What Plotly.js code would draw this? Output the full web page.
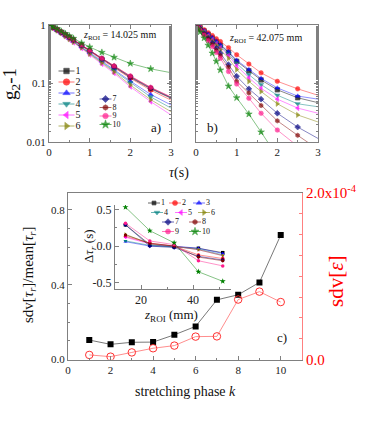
<!DOCTYPE html>
<html>
<head>
<meta charset="utf-8">
<script src="https://cdn.plot.ly/plotly-3.0.1.min.js"></script>
<style>
  html, body { margin: 0; padding: 0; background: #fff; }
  #plot { width: 374px; height: 424px; }
</style>
</head>
<body>
<div id="plot"></div>
<script>
// ---- data ----
const seriesNames = ['1', '2', '3', '4', '5', '6', '7', '8', '9', '10'];

// panels a) and b): g2-1 vs tau, fit line continues to tau = 3
const tau = [0.05, 0.1, 0.2, 0.3, 0.4, 0.5, 0.6, 0.8, 1.0, 1.3, 1.6, 2.0, 2.5];
const tauEnd = 3;

const g2a1  = [0.95, 0.91, 0.83, 0.75, 0.68, 0.61, 0.55, 0.45, 0.36, 0.26, 0.19, 0.127, 0.081];
const g2a2  = [0.95, 0.91, 0.83, 0.75, 0.68, 0.61, 0.55, 0.44, 0.355, 0.255, 0.187, 0.123, 0.077];
const g2a3  = [0.94, 0.90, 0.82, 0.74, 0.66, 0.59, 0.53, 0.43, 0.34, 0.24, 0.175, 0.11, 0.065];
const g2a4  = [0.93, 0.89, 0.81, 0.73, 0.65, 0.58, 0.52, 0.42, 0.33, 0.235, 0.168, 0.103, 0.059];
const g2a5  = [0.92, 0.87, 0.79, 0.71, 0.63, 0.56, 0.50, 0.40, 0.31, 0.215, 0.15, 0.088, 0.049];
const g2a6  = [0.93, 0.88, 0.80, 0.72, 0.64, 0.57, 0.51, 0.41, 0.32, 0.225, 0.158, 0.094, 0.053];
const g2a7  = [0.96, 0.92, 0.84, 0.76, 0.69, 0.62, 0.56, 0.45, 0.365, 0.265, 0.195, 0.13, 0.083];
const g2a8  = [0.96, 0.92, 0.84, 0.77, 0.69, 0.62, 0.56, 0.46, 0.37, 0.27, 0.20, 0.133, 0.085];
const g2a9  = [0.97, 0.93, 0.85, 0.77, 0.70, 0.63, 0.57, 0.46, 0.37, 0.27, 0.20, 0.135, 0.086];
const g2a10 = [0.97, 0.93, 0.86, 0.78, 0.71, 0.65, 0.59, 0.49, 0.42, 0.34, 0.28, 0.22, 0.178];
const fitEndA = [0.056, 0.052, 0.043, 0.038, 0.029, 0.033, 0.057, 0.058, 0.059, 0.153];

const g2b1  = [0.95, 0.90, 0.79, 0.69, 0.60, 0.52, 0.45, 0.34, 0.24, 0.165, 0.115, 0.078, 0.057];
const g2b2  = [0.97, 0.93, 0.83, 0.74, 0.66, 0.58, 0.52, 0.41, 0.31, 0.215, 0.152, 0.109, 0.081];
const g2b3  = [0.95, 0.90, 0.80, 0.70, 0.61, 0.53, 0.46, 0.35, 0.25, 0.173, 0.122, 0.084, 0.061];
const g2b4  = [0.94, 0.89, 0.78, 0.67, 0.58, 0.50, 0.43, 0.32, 0.22, 0.142, 0.096, 0.063, 0.045];
const g2b5  = [0.94, 0.88, 0.76, 0.65, 0.56, 0.48, 0.41, 0.30, 0.20, 0.125, 0.083, 0.054, 0.038];
const g2b6  = [0.93, 0.87, 0.75, 0.63, 0.53, 0.45, 0.38, 0.27, 0.173, 0.109, 0.073, 0.045, 0.029];
const g2b7  = [0.92, 0.85, 0.71, 0.59, 0.49, 0.40, 0.33, 0.21, 0.133, 0.081, 0.054, 0.031, 0.018];
const g2b8  = [0.91, 0.84, 0.69, 0.57, 0.46, 0.37, 0.30, 0.19, 0.109, 0.069, 0.042, 0.023, 0.013];
const g2b9  = [0.90, 0.82, 0.67, 0.54, 0.43, 0.34, 0.27, 0.16, 0.098, 0.056, 0.031, 0.016, 0.0085];
const g2b10 = [0.86, 0.76, 0.60, 0.45, 0.33, 0.24, 0.17, 0.09, 0.057, 0.030, 0.0148, 0.0058, 0.0017];
const fitEndB = [0.047, 0.063, 0.054, 0.040, 0.031, 0.022, 0.0115, 0.0075, 0.0045, 0.0005];

// panel c): spread vs stretching phase
const phaseK = [1, 2, 3, 4, 5, 6, 7, 8, 9, 10];
const sdvTau = [0.104, 0.081, 0.092, 0.093, 0.132, 0.177, 0.319, 0.346, 0.412, 0.665];
const sdvRate = [0.055e-4, 0.034e-4, 0.085e-4, 0.135e-4, 0.167e-4, 0.275e-4, 0.278e-4, 0.72e-4, 0.815e-4, 0.69e-4];

// inset: delta tau_r vs z_ROI
const zRoi = [14.025, 23.375, 32.725, 42.075, 51.425];
const dTau1  = [0.29, 0.02, -0.01, -0.03, -0.09];
const dTau2  = [0.13, 0.04, 0.00, -0.12, -0.17];
const dTau3  = [0.06, 0.00, 0.00, -0.03, -0.10];
const dTau4  = [0.07, 0.01, -0.01, -0.04, -0.12];
const dTau5  = [0.12, 0.03, 0.00, -0.05, -0.13];
const dTau6  = [0.16, 0.03, 0.00, -0.05, -0.13];
const dTau7  = [0.29, 0.00, -0.02, -0.14, -0.19];
const dTau8  = [0.15, 0.04, 0.00, -0.15, -0.20];
const dTau9  = [0.31, 0.07, 0.02, -0.20, -0.27];
const dTau10 = [0.53, 0.21, 0.045, -0.35, -0.48];

// ---- styling ----
const g2a = [g2a1, g2a2, g2a3, g2a4, g2a5, g2a6, g2a7, g2a8, g2a9, g2a10];
const g2b = [g2b1, g2b2, g2b3, g2b4, g2b5, g2b6, g2b7, g2b8, g2b9, g2b10];
const dTau = [dTau1, dTau2, dTau3, dTau4, dTau5, dTau6, dTau7, dTau8, dTau9, dTau10];

const colors = ['#000000', '#ff0000', '#0000ff', '#008080', '#ff00ff', '#808000', '#000080', '#800000', '#ff1a8c', '#008000'];
const lineColors = ['rgba(0,0,0,0.6)', 'rgba(255,0,0,0.55)', 'rgba(0,0,255,0.55)', 'rgba(0,128,128,0.6)', 'rgba(255,0,255,0.55)',
  'rgba(128,128,0,0.6)', 'rgba(0,0,128,0.6)', 'rgba(128,0,0,0.6)', 'rgba(255,26,140,0.6)', 'rgba(0,128,0,0.6)'];
const symbols = ['square', 'circle', 'triangle-up', 'triangle-down', 'triangle-left', 'triangle-right', 'diamond', 'hexagon', 'circle', 'star'];

const W = 374, H = 424;
const px = v => v / W;
const py = v => 1 - v / H;
const serif = "'Liberation Serif', 'Times New Roman', Times, serif";
const grey = '#808080';

const traces = [];

function panelTraces(values, ends, xa, ya) {
  values.forEach(function(vals, i) {
    const big = i === 9 ? 5 : 4.5;
    traces.push({
      x: tau.concat([tauEnd]),
      y: vals.concat([ends[i]]),
      xaxis: xa, yaxis: ya,
      mode: 'lines+markers',
      line: {color: lineColors[i], width: 0.8},
      marker: {color: colors[i], symbol: symbols[i], size: tau.map(() => big).concat([0])},
      showlegend: false, hoverinfo: 'skip'
    });
  });
}
panelTraces(g2a, fitEndA, 'x', 'y');
panelTraces(g2b, fitEndB, 'x2', 'y2');

// panel c
traces.push({
  x: phaseK, y: sdvTau, xaxis: 'x3', yaxis: 'y3',
  mode: 'lines+markers',
  line: {color: '#555', width: 0.8},
  marker: {symbol: 'square', size: 6, color: '#000'},
  showlegend: false
});
traces.push({
  x: phaseK, y: sdvRate, xaxis: 'x3', yaxis: 'y4',
  mode: 'lines+markers',
  line: {color: '#ff7070', width: 0.8},
  marker: {symbol: 'circle-open', size: 7.5, color: '#ff3030', line: {width: 1}},
  showlegend: false
});

// inset
dTau.forEach(function(vals, i) {
  traces.push({
    x: zRoi, y: vals, xaxis: 'x5', yaxis: 'y5',
    mode: 'lines+markers',
    line: {color: lineColors[i], width: 0.8},
    marker: {color: colors[i], symbol: symbols[i], size: i === 9 ? 4.5 : 3.5},
    showlegend: false
  });
});

// hand-built legends on a pixel helper axis (plotly's own legend rows are too tall here)
function legendEntry(i, xm, y, half, size, fontSize) {
  let s = size;
  if (symbols[i] === 'square') s = size - 1;
  if (symbols[i] === 'star') s = size + 1;
  traces.push({
    x: [xm - half, xm, xm + half], y: [y, y, y],
    xaxis: 'x6', yaxis: 'y6',
    mode: 'lines+markers',
    line: {color: lineColors[i], width: 1},
    marker: {color: colors[i], symbol: symbols[i], size: [0, s, 0]},
    cliponaxis: false, showlegend: false, hoverinfo: 'skip'
  });
  traces.push({
    x: [xm + half + 1], y: [y],
    xaxis: 'x6', yaxis: 'y6',
    mode: 'text',
    text: [seriesNames[i]],
    textposition: 'middle right',
    textfont: {family: serif, size: fontSize, color: '#111'},
    cliponaxis: false, showlegend: false, hoverinfo: 'skip'
  });
}
for (let i = 0; i < 6; i++) legendEntry(i, 66.5, 71 + 11 * i, 8, 6.5, 10);
for (let j = 0; j < 4; j++) legendEntry(6 + j, 105.5, 99 + 8.5 * j, 6, 5.5, 8);

const insetRows = [
  {ids: [0, 1, 2], xs: [154, 175, 199], y: 203},
  {ids: [3, 4, 5], xs: [157, 181, 204], y: 212.5},
  {ids: [6, 7], xs: [168, 195], y: 222},
  {ids: [8, 9], xs: [168, 195], y: 231.5}
];
insetRows.forEach(function(row) {
  row.ids.forEach(function(id, k) { legendEntry(id, row.xs[k], row.y, 6, 5, 8); });
});

// ---- axes ----
const tickFont = {family: serif, size: 11, color: '#222'};
const base = {
  showgrid: false, zeroline: false, showline: true, linecolor: grey, linewidth: 1,
  ticks: 'inside', ticklen: 4, tickcolor: grey, tickfont: tickFont, fixedrange: true
};
const minorLin = d => ({ticks: 'inside', ticklen: 2, tickcolor: grey, dtick: d, showgrid: false});
const minorLog = {ticks: 'inside', ticklen: 2, tickcolor: grey, showgrid: false};

const layout = {
  width: W, height: H,
  margin: {l: 0, r: 0, t: 0, b: 0},
  paper_bgcolor: '#fff', plot_bgcolor: 'rgba(0,0,0,0)',
  showlegend: false,
  font: {family: serif, color: '#111'},
  xaxis: Object.assign({}, base, {domain: [px(49), px(171)], range: [0, 3], anchor: 'y', mirror: 'ticks',
    tickvals: [0, 1, 2, 3], minor: minorLin(0.5)}),
  yaxis: Object.assign({}, base, {domain: [py(142), py(25)], type: 'log', range: [-2, 0], anchor: 'x', mirror: 'ticks',
    tickvals: [0.01, 0.1, 1], ticktext: ['0.01', '0.1', '1'], minor: minorLog}),
  xaxis2: Object.assign({}, base, {domain: [px(196), px(318)], range: [0, 3], anchor: 'y2', mirror: 'ticks',
    tickvals: [0, 1, 2, 3], minor: minorLin(0.5)}),
  yaxis2: Object.assign({}, base, {domain: [py(142), py(25)], type: 'log', range: [-2, 0], anchor: 'x2', mirror: 'ticks',
    tickvals: [0.01, 0.1, 1], showticklabels: false, minor: minorLog}),
  xaxis3: Object.assign({}, base, {domain: [px(68), px(302)], range: [0, 11], anchor: 'y3', mirror: true,
    tickvals: [0, 2, 4, 6, 8, 10], minor: minorLin(1)}),
  yaxis3: Object.assign({}, base, {domain: [py(359.5), py(193)], range: [0, 0.89], anchor: 'x3',
    tickvals: [0, 0.4, 0.8], ticktext: ['0.0', '0.4', '0.8'], minor: minorLin(0.1)}),
  yaxis4: Object.assign({}, base, {overlaying: 'y3', side: 'right', anchor: 'x3', range: [0, 2e-4],
    linecolor: '#ff8080', tickcolor: '#ff8080',
    tickvals: [0, 2e-4], ticktext: ['0.0', '2.0x10<sup>-4</sup>'],
    tickfont: {family: serif, size: 15, color: '#ff0000'},
    minor: {ticks: 'inside', ticklen: 3, tickcolor: '#ff8080', dtick: 0.25e-4, showgrid: false}}),
  xaxis5: Object.assign({}, base, {domain: [px(115), px(231)], range: [10, 54.6], anchor: 'y5',
    tickvals: [20, 40], tickfont: {family: serif, size: 12, color: '#222'}, minor: minorLin(10)}),
  yaxis5: Object.assign({}, base, {domain: [py(289), py(205)], range: [-0.585, 0.56], anchor: 'x5',
    tickvals: [-0.5, 0, 0.5], ticktext: ['-0.5', '0.0', '0.5'],
    tickfont: {family: serif, size: 12, color: '#222'}, minor: minorLin(0.25)}),
  xaxis6: {domain: [0, 1], range: [0, W], anchor: 'y6', visible: false, fixedrange: true},
  yaxis6: {domain: [0, 1], range: [H, 0], anchor: 'x6', visible: false, fixedrange: true},
  annotations: [
    {text: 'g<sub>2</sub>-1', x: px(11), y: py(84), textangle: -90, font: {size: 19}},
    {text: '<i>τ</i>(s)', x: px(179), y: py(173), font: {size: 14}},
    {text: '<i>z</i><sub>ROI</sub> = 14.025 mm', x: px(119), y: py(36), font: {size: 10}},
    {text: '<i>z</i><sub>ROI</sub> = 42.075 mm', x: px(265), y: py(38), font: {size: 10}},
    {text: 'a)', x: px(156), y: py(127), font: {size: 13}},
    {text: 'b)', x: px(212), y: py(128), font: {size: 13}},
    {text: 'c)', x: px(282), y: py(337), font: {size: 13}},
    {text: 'sdv[<i>τ</i><sub><i>r</i></sub>]/mean[<i>τ</i><sub><i>r</i></sub>]', x: px(29), y: py(275), textangle: -90, font: {size: 15}},
    {text: 'sdv[<i>ε̇</i>]', x: px(336), y: py(282), textangle: -90, font: {size: 21, color: '#ff0000'}},
    {text: 'stretching phase <i>k</i>', x: px(185), y: py(391), font: {size: 14}},
    {text: 'Δ<i>τ</i><sub><i>r</i></sub> (s)', x: px(89), y: py(246), textangle: -90, font: {size: 13}},
    {text: '<i>z</i><sub>ROI</sub> (mm)', x: px(171), y: py(315), font: {size: 13}}
  ].map(a => Object.assign({xref: 'paper', yref: 'paper', showarrow: false, xanchor: 'center', yanchor: 'middle'}, a))
};

Plotly.newPlot('plot', traces, layout, {displayModeBar: false, staticPlot: true});
</script>
</body>
</html>
